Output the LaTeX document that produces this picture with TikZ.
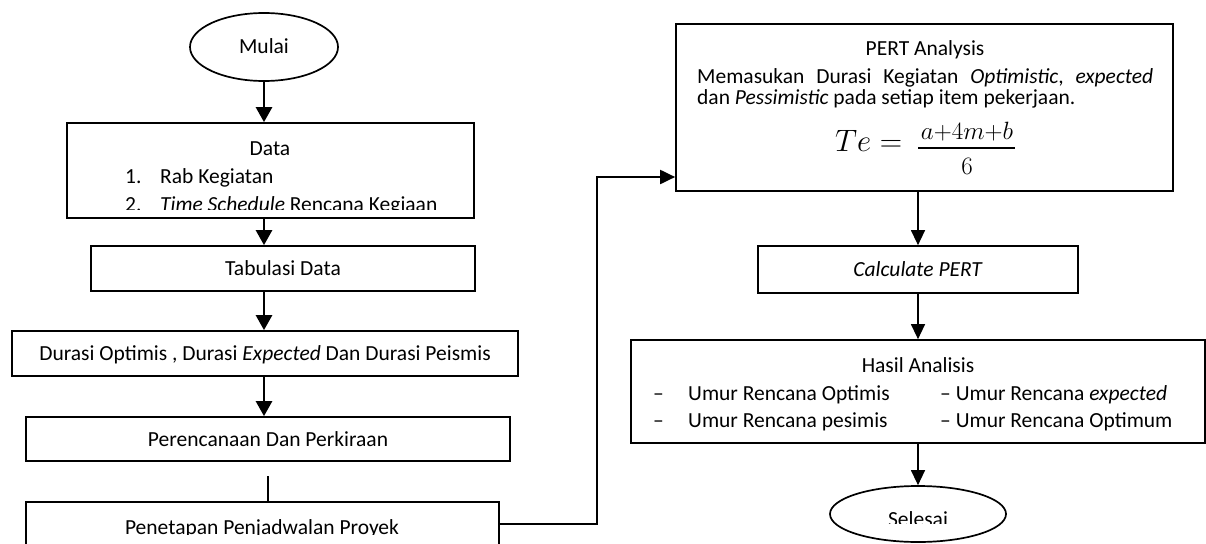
\RequirePackage{fix-cm}
\documentclass[tikz,border=0pt]{standalone}
\usepackage{fontspec}
\setmainfont{Carlito}
\usetikzlibrary{arrows.meta,shapes.geometric,calc}
\tikzset{
  box/.style={rectangle,draw,line width=1.7pt,inner sep=0pt,text height=14pt,text depth=0pt},
  oval/.style={ellipse,draw,line width=1.7pt,inner sep=0pt,text height=14pt,text depth=0pt},
  txt/.style={inner sep=0pt,anchor=base}
}

\begin{document}
\begin{tikzpicture}[x=1pt,y=-1pt,font=\fontsize{21.5}{26}\selectfont]
    % Local styling definitions
    \tikzstyle{flowL} =[-{Triangle[length=15pt,width=16pt]},line width=2.6pt]
    \tikzstyle{flowR} =[-{Triangle[length=15pt,width=14pt]},line width=1.3pt]
    \tikzstyle{link}  =[-{Triangle[length=15pt,width=14pt]},line width=2pt]
    \tikzstyle{big}   =[font=\fontsize{31}{31}\selectfont]
    \tikzstyle{mid}   =[font=\fontsize{25}{25}\selectfont]

    % Page frame
    \clip (0,0) rectangle (1206,543);

    % Left column
    \node[oval,minimum width=148pt,minimum height=68pt] (mulai) at (264,47) {Mulai};
    \node[box,minimum width=407pt,minimum height=95pt] (data) at (270.5,170.5) {};
    \node[box,minimum width=384pt,minimum height=45pt] (tab) at (283,268.5) {Tabulasi Data};
    \node[box,minimum width=506pt,minimum height=45pt] (dur) at (265,353.5)
      {Durasi Optimis , Durasi \textit{Expected} Dan Durasi Peismis};
    \node[box,minimum width=484pt,minimum height=44pt] (per) at (268,439) {Perencanaan Dan Perkiraan};
    \node[box,minimum width=473pt,minimum height=60pt] (pen) at (262.5,532) {};

    % Data box text
    \node[txt] (datat) at (270,155) {Data};
    \node[txt,anchor=base west] (no1) at (125,183) {1.};
    \node[txt,anchor=base west] (item1) at (160,183) {Rab Kegiatan};
    \begin{scope}
      \clip (67,123) rectangle (474,209);
      \node[txt,anchor=base west] (no2) at (125,211) {2.};
      \node[txt,anchor=base west] (item2) at (160,211) {\textit{Time Schedule} Rencana Kegiaan};
    \end{scope}
    \begin{scope}
      \clip (26,500) rectangle (499,534);
      \node[txt] (pent) at (262,534) {Penetapan Penjadwalan Proyek};
    \end{scope}

    % Right column
    \node[box,minimum width=497pt,minimum height=167pt] (pert) at (924.5,107.5) {};
    \node[box,minimum width=320pt,minimum height=47pt] (calc) at (918,269.5) {\textit{Calculate PERT}};
    \node[box,minimum width=574pt,minimum height=103pt] (hasil) at (918,391.5) {};
    \node[oval,minimum width=176pt,minimum height=56pt] (selesai) at (918,514) {};

    % PERT box text
    \node[txt] (pertt) at (925,56) {PERT Analysis};
    \node[txt,anchor=base west] (line1) at (697,83)
      {\hbox to 456pt{Memasukan\hfil Durasi\hfil Kegiatan\hfil \textit{Optimistic},\hfil \textit{expected}}};
    \node[txt,anchor=base west] (line2) at (697,104) {dan \textit{Pessimistic} pada setiap item pekerjaan.};
    \node[txt,big,anchor=base west] (te) at (835,151) {$Te =$};
    \node[txt,mid] (num) at (967,139) {$a{+}4m{+}b$};
    \draw[line width=2.4pt] (918,148) -- (1015,148);
    \node[txt,mid] (den) at (967,174) {$6$};

    % Hasil box text
    \node[txt] (hasilt) at (918,372) {Hasil Analisis};
    \node[txt,anchor=base west] (d1) at (653,400) {--};
    \node[txt,anchor=base west] (r1) at (688,400) {Umur Rencana Optimis};
    \node[txt,anchor=base west] (r2) at (940,400) {-- Umur Rencana \textit{expected}};
    \node[txt,anchor=base west] (d3) at (653,427) {--};
    \node[txt,anchor=base west] (r3) at (688,427) {Umur Rencana pesimis};
    \node[txt,anchor=base west] (r4) at (940,427) {-- Umur Rencana Optimum};
    \begin{scope}
      \clip (831,480) rectangle (1007,523);
      \node[txt] (selesait) at (918,526) {Selesai};
    \end{scope}

    % Connectors
    \draw[flowL] (mulai.south) -- (mulai.south |- data.north);
    \draw[flowL] (mulai.south |- data.south) -- (mulai.south |- tab.north);
    \draw[flowL] (mulai.south |- tab.south) -- (mulai.south |- dur.north);
    \draw[flowL] (mulai.south |- dur.south) -- (mulai.south |- per.north);
    \coordinate (gap) at (268,476);
    \draw[line width=2.2pt] (gap) -- (gap |- pen.north);
    \coordinate (turn) at (597,524);
    \draw[link] (pen.east |- turn) -- (turn) |- ([yshift=-69.5pt]pert.west);
    \draw[flowR] (calc.north |- pert.south) -- (calc.north);
    \draw[flowR] (calc.south) -- (hasil.north);
    \draw[flowR] (hasil.south) -- (selesai.north);
\end{tikzpicture}
\end{document}
